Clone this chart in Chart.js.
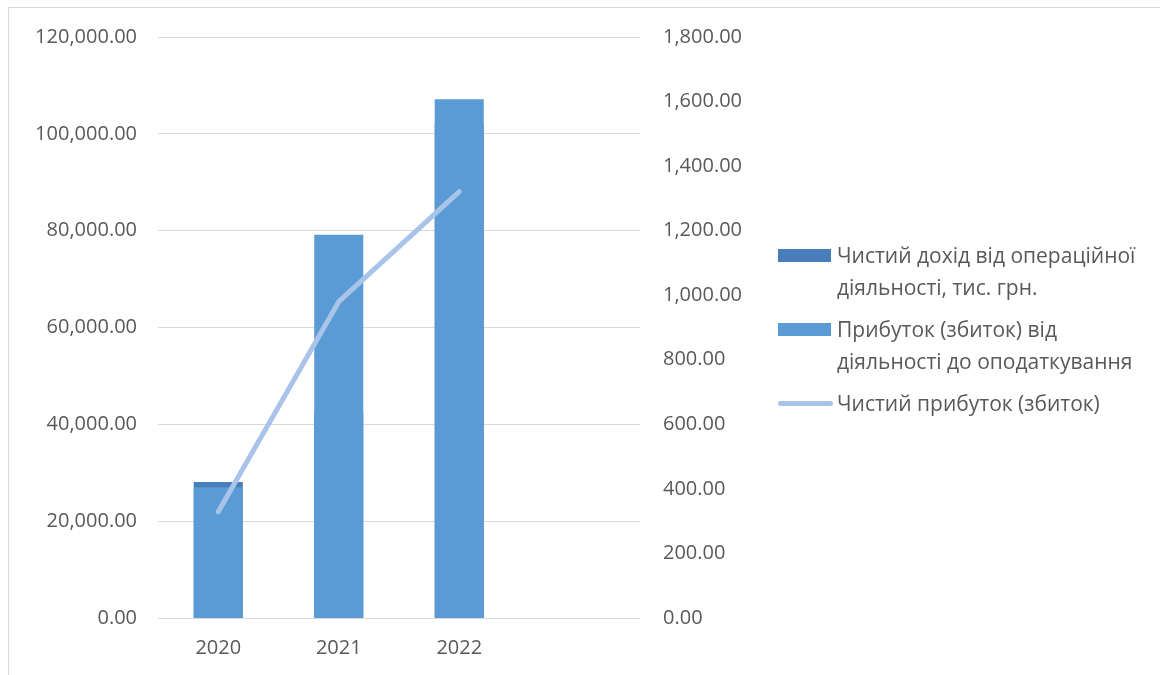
<!DOCTYPE html>
<html>
<head>
<meta charset="utf-8">
<script src="https://cdn.jsdelivr.net/npm/chart.js@4.4.1/dist/chart.umd.min.js"></script>
<style>
  html, body { margin: 0; padding: 0; background: #fff; }
  #wrap { position: relative; width: 1160px; height: 675px; overflow: hidden; font-family: 'Open Sans', sans-serif; color: #595959; }
  #frame { position: absolute; left: 8px; top: 7px; width: 1160px; height: 720px; border: 1px solid #d9d9d9; }
  #chart { position: absolute; left: 0; top: 0; }
  .item { position: absolute; left: 778px; font-size: 21px; line-height: 32px; white-space: nowrap; }
  .item .sw { position: absolute; left: 0; top: 10px; width: 53px; height: 13px; }
  .item .ln { position: absolute; left: 0; top: 14px; width: 55px; height: 5px; border-radius: 3px; }
  .item .tx { margin-left: 59px; }
</style>
</head>
<body>
<div id="wrap">
  <div id="frame"></div>
  <canvas id="chart" width="1160" height="675"></canvas>
  <div id="legend"></div>
</div>
<script>
var years = ['2020', '2021', '2022', ''];
var revenue = [28100, 42500, 102200];          // Чистий дохід, ліва вісь
var profitBeforeTax = [405, 1187, 1607];        // права вісь
var netProfit = [329, 980, 1321];               // права вісь
var leftMax = 120000, leftStep = 20000;
var rightMax = 1800, rightStep = 200;

var seriesNames = [
  ['Чистий дохід від операційної', 'діяльності, тис. грн.'],
  ['Прибуток (збиток) від', 'діяльності до оподаткування'],
  ['Чистий прибуток (збиток)']
];

var textColor = '#595959';
var gridColor = '#d9d9d9';
var darkBlue = '#4a7ebb';
var midBlue = '#5b9bd5';
var lightBlue = '#a9c4e8';
var font = { family: "'Open Sans', sans-serif", size: 20 };

function fmt(v) {
  return Number(v).toLocaleString('en-US', { minimumFractionDigits: 2, maximumFractionDigits: 2 });
}

new Chart(document.getElementById('chart'), {
  type: 'bar',
  data: {
    labels: years,
    datasets: [{
      type: 'line',
      label: seriesNames[2].join(' '),
      data: netProfit,
      yAxisID: 'y1',
      borderColor: lightBlue,
      borderWidth: 5,
      borderCapStyle: 'round',
      borderJoinStyle: 'round',
      pointRadius: 0,
      tension: 0,
      order: 1
    }, {
      label: seriesNames[1].join(' '),
      data: profitBeforeTax,
      yAxisID: 'y1',
      backgroundColor: midBlue,
      grouped: false,
      categoryPercentage: 0.407,
      barPercentage: 1,
      order: 2
    }, {
      label: seriesNames[0].join(' '),
      data: revenue,
      yAxisID: 'y',
      backgroundColor: darkBlue,
      grouped: false,
      categoryPercentage: 0.407,
      barPercentage: 1,
      order: 3
    }]
  },
  options: {
    responsive: false,
    animation: false,
    layout: { padding: { top: 37, left: 0, right: 0, bottom: 0 } },
    plugins: { legend: { display: false }, tooltip: { enabled: false } },
    scales: {
      x: {
        offset: true,
        grid: { display: false },
        border: { display: false },
        ticks: { color: textColor, font: font, padding: 10 },
        afterFit: function (s) { s.height = 57; }
      },
      y: {
        position: 'left',
        min: 0, max: leftMax,
        grid: { color: gridColor, lineWidth: 1, drawTicks: false },
        border: { display: false },
        ticks: { stepSize: leftStep, color: textColor, font: font, padding: 21, callback: fmt },
        afterFit: function (s) { s.width = 158; }
      },
      y1: {
        position: 'right',
        min: 0, max: rightMax,
        grid: { display: false, drawTicks: false },
        border: { display: false },
        ticks: { stepSize: rightStep, color: textColor, font: font, padding: 23, callback: fmt },
        afterFit: function (s) { s.width = 520; }
      }
    }
  }
});

// legend
var legendTops = [239, 313, 387];
var legendKinds = [['sw', darkBlue], ['sw', midBlue], ['ln', lightBlue]];
var legend = document.getElementById('legend');
seriesNames.forEach(function (lines, i) {
  var item = document.createElement('div');
  item.className = 'item';
  item.style.top = legendTops[i] + 'px';
  var mark = document.createElement('div');
  mark.className = legendKinds[i][0];
  mark.style.background = legendKinds[i][1];
  item.appendChild(mark);
  var tx = document.createElement('div');
  tx.className = 'tx';
  lines.forEach(function (l) {
    var d = document.createElement('div');
    d.textContent = l;
    tx.appendChild(d);
  });
  item.appendChild(tx);
  legend.appendChild(item);
});
</script>
</body>
</html>
